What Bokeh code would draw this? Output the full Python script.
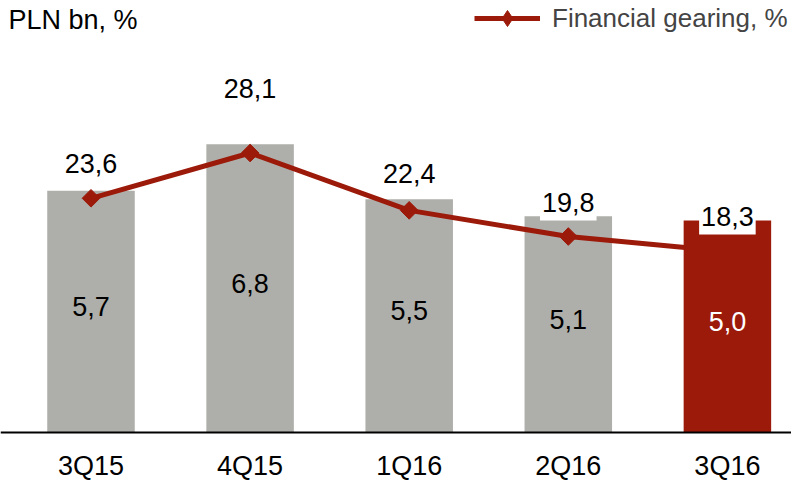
import numpy as np
from bokeh.plotting import figure
from bokeh.models import (ColumnDataSource, Range1d, Label, Legend, LegendItem,
                          CDSView, IndexFilter, Span)
from bokeh.core.properties import value
from bokeh.embed import file_html
from bokeh.resources import INLINE

# ---- data ----
categories = ["3Q15", "4Q15", "1Q16", "2Q16", "3Q16"]
debt_bn = [5.7, 6.8, 5.5, 5.1, 5.0]          # bars, PLN bn
gearing_pct = [23.6, 28.1, 22.4, 19.8, 18.3]  # line, %

# ---- styling ----
FONT = "Liberation Sans"
GRAY = "#AEAFAA"
RED = "#9C1A0A"
FS = "27px"
line_label_lift = [30, 60, 32, 30, 31]

def fmt(v):
    return f"{v:.1f}".replace(".", ",")

n = len(categories)
xs = list(range(n))

src = ColumnDataSource(dict(
    x=xs,
    base=[0] * n,
    cat=categories,
    bn=debt_bn,
    mid=[v / 2 for v in debt_bn],
    bn_text=[fmt(v) for v in debt_bn],
    pct=gearing_pct,
    pct_text=[fmt(v) for v in gearing_pct],
    lift=[-d for d in line_label_lift],
    bar_color=[GRAY] * (n - 1) + [RED],
    bar_text_color=["black"] * (n - 1) + ["white"],
))

p = figure(width=791, height=482, output_backend="svg", toolbar_location=None,
           x_range=Range1d(-0.5688, 4.4029), y_range=Range1d(-1.179, 10.189),
           x_axis_location=None, y_axis_location=None,
           min_border_left=0, min_border_right=0, min_border_top=0, min_border_bottom=0)
p.extra_y_ranges = {"pct": Range1d(-4.652, 43.26)}
p.outline_line_color = None
p.grid.visible = False
p.background_fill_color = "white"
p.border_fill_color = "white"

gray_view = CDSView(filter=IndexFilter(list(range(n - 1))))
red_view = CDSView(filter=IndexFilter([n - 1]))

p.vbar(x="x", top="bn", bottom="base", width=0.55, source=src, view=gray_view,
       fill_color="bar_color", line_color=None)
lr = p.line(x="x", y="pct", source=src, y_range_name="pct", line_color=RED, line_width=5)
# small diamond hidden beneath the main markers; used as the legend swatch
legend_marker = p.scatter(x="x", y="pct", source=src, y_range_name="pct", marker="diamond",
                          size=10, fill_color=RED, line_color=RED)
p.scatter(x="x", y="pct", source=src, y_range_name="pct", marker="square",
          angle=np.pi / 4, size=12.5, fill_color=RED, line_color=RED)
p.vbar(x="x", top="bn", bottom="base", width=0.55, source=src, view=red_view,
       fill_color="bar_color", line_color=None)

# x axis line at zero
p.add_layout(Span(location=0, dimension="width", line_color="black", line_width=2))

# category labels
p.text(x="x", y="base", text="cat", source=src, text_align="center",
       text_baseline="alphabetic", y_offset=33, text_font=value(FONT),
       text_font_size=FS, text_color="black")

# bar value labels
p.text(x="x", y="mid", text="bn_text", source=src, text_align="center",
       text_baseline="alphabetic", y_offset=-5, text_font=value(FONT),
       text_font_size=FS, text_color="bar_text_color")

# gearing labels with white boxes
p.text(x="x", y="pct", text="pct_text", source=src, y_range_name="pct",
       text_align="center", text_baseline="alphabetic", y_offset="lift",
       text_font=value(FONT), text_font_size=FS, text_color="black",
       background_fill_color="white",
       padding=dict(left=2, right=2, top=0, bottom=9))

p.add_layout(Label(x=8, y=462.8, x_units="screen", y_units="screen",
                   text="PLN bn, %", text_font=FONT, text_font_size=FS,
                   text_baseline="alphabetic", text_color="black"))

legend = Legend(items=[LegendItem(label="Financial gearing, %", renderers=[lr, legend_marker])],
                location=(474, 444), padding=0, margin=0, spacing=0,
                glyph_width=66, glyph_height=40, label_standoff=12,
                label_text_font=FONT, label_text_font_size="26px",
                border_line_color=None, background_fill_alpha=0)
p.add_layout(legend)

open("out.html", "w").write(file_html(p, INLINE))
